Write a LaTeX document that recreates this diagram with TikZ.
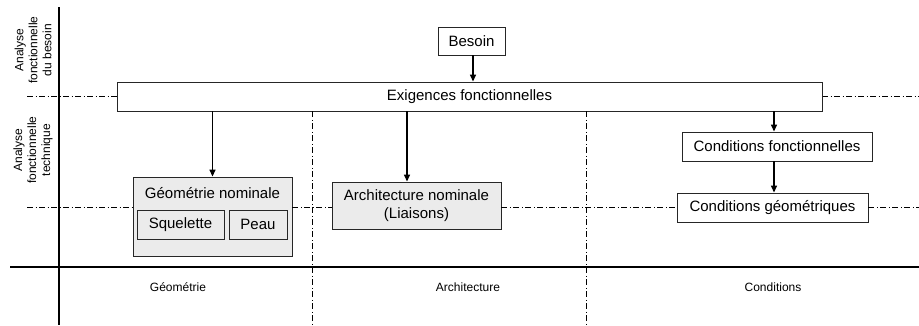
\documentclass[tikz,border=0pt]{standalone}
\usepackage{fontspec}
\setmainfont{Liberation Sans}
\usetikzlibrary{arrows.meta}
\begin{document}
\begin{tikzpicture}[x=1pt,y=-1pt,
  box/.style={draw=black!85,line width=0.9pt,inner sep=0pt,font=\fontsize{15}{18}\selectfont,align=center},
  gbox/.style={box,fill=black!8},
  arr/.style={line width=1.4pt,-{Triangle[length=7pt,width=6pt]}},
  axisline/.style={line width=1.8pt},
  dd/.style={line width=0.7pt,dash pattern=on 6pt off 2.5pt on 1pt off 2.5pt},
  small/.style={font=\fontsize{12}{14}\selectfont,inner sep=0pt},
]
\useasboundingbox (0,0) rectangle (919,325);
% guide coordinates
\coordinate (vtop) at (59,7);
\coordinate (vbot) at (59,325);
\coordinate (hl) at (10,267);
\coordinate (hr) at (919,267);
\coordinate (l1) at (27,96);
\coordinate (r1) at (919,96);
\coordinate (l2) at (27,207);
\coordinate (r2) at (919,207);
\coordinate (v1) at (312,325);
\coordinate (v2) at (586,325);
\coordinate (a2) at (407,0);
\coordinate (a3) at (774,0);
% dash-dot guides
\draw[dd] (l1) -- (l1 -| 117,0);
\draw[dd] (822,96) -- (r1);
% nodes
\node[box,minimum width=67pt,minimum height=28pt] (besoin) at (471.5,41) {Besoin};
\node[box,minimum width=705pt,minimum height=29pt] (exig) at (469.5,96.5) {Exigences fonctionnelles};
\node[gbox,minimum width=159pt,minimum height=79pt] (geo) at (212.5,216.5) {};
\node[box,draw=none,fill=none] (geot) at (212.5,193) {Géométrie nominale};
\node[gbox,minimum width=87pt,minimum height=29pt] (sq) at (180.5,224.5) {Squelette};
\node[gbox,minimum width=58pt,minimum height=29pt] (peau) at (258,224.5) {Peau};
\node[gbox,minimum width=169pt,minimum height=47pt] (arch) at (416.5,205.5) {Architecture nominale\\(Liaisons)};
\node[box,minimum width=190pt,minimum height=29pt] (cf) at (777,146.5) {Conditions fonctionnelles};
\node[box,minimum width=191pt,minimum height=29pt] (cg) at (772.5,207.5) {Conditions géométriques};
% dash-dot guides
\draw[dd] (l2) -- (geo.west |- l2);
\draw[dd] (geo.east |- l2) -- (arch.west |- l2);
\draw[dd] (arch.east |- l2) -- (cg.west |- l2);
\draw[dd] (cg.east |- l2) -- (r2);
\draw[dd] (exig.south -| v1) -- (v1);
\draw[dd] (exig.south -| v2) -- (v2);
% axes
\draw[axisline] (vtop) -- (vbot);
\draw[axisline] (hl) -- (hr);
% arrows
\draw[arr] (besoin.south -| 473,0) -- (exig.north -| 473,0);
\draw[arr] (exig.south -| geo.north) -- (geo.north);
\draw[arr] (exig.south -| a2) -- (arch.north -| a2);
\draw[arr] (exig.south -| a3) -- (cf.north -| a3);
\draw[arr] (cf.south -| a3) -- (cg.north -| a3);
% labels
\node[small] (lg) at (178,287) {Géométrie};
\node[small] (la) at (468,287) {Architecture};
\node[small] (lc) at (773,287) {Conditions};
\node[small,rotate=90,align=center] (afb) at (33,50) {Analyse\\fonctionnelle\\du besoin};
\node[small,rotate=90,align=center] (aft) at (33,150) {Analyse\\fonctionnelle\\technique};
\end{tikzpicture}
\end{document}
